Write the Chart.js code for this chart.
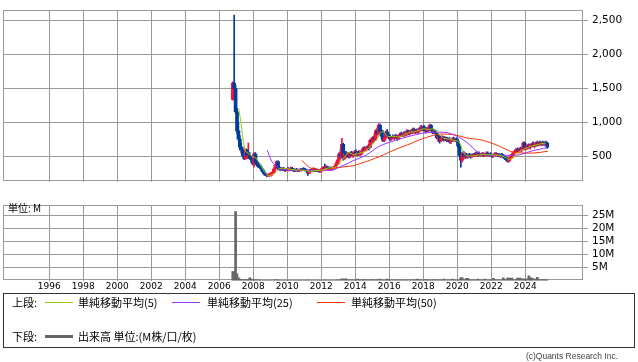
<!DOCTYPE html>
<html>
<head>
<meta charset="utf-8">
<script src="https://cdn.jsdelivr.net/npm/chart.js@4/dist/chart.umd.min.js"></script>
<style>
  body { margin: 0; background: #fff; width: 638px; height: 362px; position: relative; overflow: hidden;
         font-family: "Noto Sans CJK JP", sans-serif; color: #000; }
  canvas { position: absolute; left: 0; }
  #price { top: 0; }
  #volume { top: 195px; }
  .unit { position: absolute; left: 8px; top: 202px; font-size: 10px; line-height: 12px; }
  #legend { position: absolute; left: 3px; top: 293px; width: 630px; height: 53px; border: 1px solid #333; font-size: 11px; }
  #legend span { position: absolute; line-height: 13px; white-space: nowrap; }
  #legend i { position: absolute; width: 28px; height: 0; }
  .copy { position: absolute; right: 20px; top: 351px; font-size: 8.5px; line-height: 11px; color: #444; font-family: "Liberation Sans", sans-serif; }
</style>
</head>
<body>
<canvas id="price" width="638" height="192"></canvas>
<canvas id="volume" width="638" height="100"></canvas>
<div class="unit">単位: M</div>
<div id="legend">
  <span style="left:8px;top:2px">上段:</span>
  <i style="left:41px;top:8px;border-top:1px solid #99cc00"></i>
  <span style="left:74px;top:2px">単純移動平均(5)</span>
  <i style="left:168px;top:8px;border-top:1px solid #9933ff"></i>
  <span style="left:203px;top:2px">単純移動平均(25)</span>
  <i style="left:313px;top:8px;border-top:1px solid #ff3300"></i>
  <span style="left:347px;top:2px">単純移動平均(50)</span>
  <span style="left:8px;top:36px">下段:</span>
  <i style="left:41px;top:41px;border-top:3px solid #666"></i>
  <span style="left:74px;top:36px">出来高 単位:(M株/口/枚)</span>
</div>
<div class="copy">(c)Quants Research Inc.</div>
<script>
// 月足 2006年10月〜2025年4月
var startYear = 2006, startMonth = 10;

var opens = [
  1340, 1580, 1500,
  1160, 880, 760, 640, 600, 520, 470, 600, 500, 520, 480, 460,
  400, 540, 420, 380, 360, 350, 320, 280, 250, 230, 220, 220,
  230, 250, 270, 320, 370, 430, 330, 320, 310, 330, 310, 300,
  320, 310, 320, 330, 310, 290, 310, 300, 290, 310, 300, 320,
  310, 300, 290, 260, 300, 290, 310, 320, 290, 300, 290, 280,
  300, 330, 340, 330, 350, 320, 330, 320, 330, 340, 360, 400,
  450, 540, 500, 680, 480, 550, 510, 540, 500, 560, 520, 540,
  570, 540, 560, 530, 550, 590, 620, 600, 630, 650, 640, 740,
  720, 780, 760, 880, 840, 960, 880, 800, 740, 780, 860, 820,
  790, 760, 790, 780, 800, 790, 770, 810, 830, 820, 840, 810,
  850, 880, 840, 870, 850, 900, 870, 880, 860, 890, 920, 900,
  940, 900, 880, 910, 890, 960, 900, 860, 880, 850, 780, 800,
  740, 770, 790, 750, 780, 740, 750, 720, 740, 760, 740, 750,
  730, 660, 520, 450, 540, 500, 520, 500, 520, 510, 500, 530,
  520, 540, 530, 550, 520, 530, 540, 520, 530, 550, 520, 530,
  520, 510, 530, 540, 520, 530, 510, 530, 520, 490, 480, 460,
  440, 470, 500, 530, 560, 580, 600, 590, 610, 600, 620, 700,
  620, 640, 660, 640, 670, 690, 660, 690, 700, 680, 710, 690,
  700, 690, 710, 700
];
var highs = [
  1600, 2580, 1540,
  1210, 990, 810, 700, 640, 560, 620, 610, 700, 560, 500, 480,
  560, 560, 450, 420, 400, 370, 330, 300, 270, 250, 250, 260,
  270, 280, 330, 380, 440, 440, 350, 345, 340, 345, 330, 330,
  345, 330, 350, 345, 330, 320, 330, 320, 320, 330, 330, 340,
  330, 320, 300, 310, 320, 320, 340, 330, 320, 320, 310, 310,
  340, 360, 390, 370, 360, 340, 350, 340, 360, 370, 420, 460,
  560, 600, 770, 700, 570, 580, 560, 560, 570, 580, 560, 590,
  600, 580, 590, 570, 600, 640, 650, 640, 660, 680, 760, 780,
  800, 840, 900, 920, 985, 980, 900, 880, 800, 880, 900, 840,
  820, 800, 820, 810, 830, 810, 820, 850, 860, 850, 870, 860,
  900, 890, 880, 900, 920, 920, 900, 910, 900, 940, 960, 950,
  960, 920, 930, 940, 980, 970, 910, 900, 890, 860, 820, 810,
  790, 810, 800, 790, 790, 770, 780, 760, 780, 790, 770, 780,
  760, 680, 560, 560, 580, 560, 550, 540, 550, 540, 540, 550,
  560, 570, 560, 570, 550, 560, 560, 550, 570, 570, 550, 560,
  540, 540, 560, 560, 550, 550, 540, 550, 530, 510, 500, 490,
  480, 520, 540, 570, 600, 620, 630, 620, 640, 630, 720, 720,
  660, 680, 690, 680, 700, 720, 700, 720, 730, 720, 730, 720,
  730, 720, 730, 710
];
var lows = [
  1330, 1480, 1140,
  840, 740, 600, 560, 500, 455, 460, 480, 470, 460, 420, 380,
  345, 400, 360, 340, 330, 300, 270, 240, 220, 205, 210, 210,
  215, 230, 250, 300, 350, 310, 300, 300, 290, 300, 280, 290,
  300, 290, 300, 300, 280, 280, 290, 280, 280, 290, 290, 300,
  290, 280, 225, 250, 280, 280, 290, 280, 280, 280, 270, 270,
  290, 320, 320, 320, 310, 300, 310, 300, 320, 320, 340, 380,
  430, 470, 490, 450, 460, 490, 490, 480, 490, 500, 490, 520,
  520, 510, 520, 510, 530, 570, 590, 580, 600, 600, 630, 690,
  700, 740, 740, 820, 820, 860, 760, 720, 720, 760, 800, 760,
  740, 740, 760, 750, 770, 740, 760, 790, 800, 790, 800, 800,
  830, 820, 820, 840, 840, 850, 840, 850, 840, 870, 880, 880,
  880, 850, 860, 870, 880, 880, 840, 840, 830, 760, 720, 700,
  720, 740, 730, 740, 720, 720, 700, 690, 720, 730, 720, 720,
  640, 500, 345, 420, 480, 470, 480, 480, 490, 480, 490, 500,
  500, 510, 500, 510, 500, 510, 500, 500, 510, 510, 500, 510,
  490, 490, 510, 510, 500, 500, 490, 500, 480, 460, 440, 420,
  420, 450, 480, 510, 540, 560, 570, 560, 580, 570, 600, 600,
  600, 610, 620, 610, 640, 650, 630, 650, 660, 660, 670, 660,
  670, 660, 680, 620
];
var closes = [
  1580, 1500, 1160,
  880, 760, 640, 600, 520, 470, 600, 500, 520, 480, 460, 400,
  540, 420, 380, 360, 350, 320, 280, 250, 230, 220, 220, 230,
  250, 270, 320, 370, 430, 330, 320, 310, 330, 310, 300, 320,
  310, 320, 330, 310, 290, 310, 300, 290, 310, 300, 320, 310,
  300, 290, 260, 300, 290, 310, 320, 290, 300, 290, 280, 300,
  330, 340, 330, 350, 320, 330, 320, 330, 340, 360, 400, 450,
  540, 500, 680, 480, 550, 510, 540, 500, 560, 520, 540, 570,
  540, 560, 530, 550, 590, 620, 600, 630, 650, 640, 740, 720,
  780, 760, 880, 840, 960, 880, 800, 740, 780, 860, 820, 790,
  760, 790, 780, 800, 790, 770, 810, 830, 820, 840, 810, 850,
  880, 840, 870, 850, 900, 870, 880, 860, 890, 920, 900, 940,
  900, 880, 910, 890, 960, 900, 860, 880, 850, 780, 800, 740,
  770, 790, 750, 780, 740, 750, 720, 740, 760, 740, 750, 730,
  660, 520, 450, 540, 500, 520, 500, 520, 510, 500, 530, 520,
  540, 530, 550, 520, 530, 540, 520, 530, 550, 520, 530, 520,
  510, 530, 540, 520, 530, 510, 530, 520, 490, 480, 460, 440,
  470, 500, 530, 560, 580, 600, 590, 610, 600, 620, 700, 620,
  640, 660, 640, 670, 690, 660, 690, 700, 680, 710, 690, 700,
  690, 710, 700, 640
];
// 出来高 (M)
var volumes = [
  3.4, 3.4, 26.6,
  2.6, 1.0, 0.5, 0.4, 0.3, 0.3, 0.4, 0.3, 0.4, 1.0, 0.5, 0.3,
  0.3, 0.3, 0.2, 0.2, 0.2, 0.1, 0.1, 0.1, 0.1, 0.2, 0.1, 0.1,
  0.1, 0.1, 0.2, 0.2, 0.3, 0.2, 0.1, 0.1, 0.1, 0.1, 0.1, 0.1,
  0.1, 0.1, 0.1, 0.1, 0.1, 0.1, 0.1, 0.1, 0.1, 0.1, 0.1, 0.1,
  0.1, 0.1, 0.2, 0.1, 0.1, 0.1, 0.1, 0.1, 0.1, 0.1, 0.1, 0.1,
  0.1, 0.1, 0.2, 0.1, 0.1, 0.1, 0.1, 0.1, 0.1, 0.1, 0.2, 0.2,
  0.2, 0.3, 0.6, 0.5, 0.5, 0.6, 0.2, 0.2, 0.2, 0.2, 0.2, 0.2,
  0.2, 0.5, 0.2, 0.2, 0.2, 0.2, 0.4, 0.2, 0.2, 0.2, 0.2, 0.4,
  0.2, 0.2, 0.2, 0.4, 0.2, 0.5, 0.2, 0.2, 0.2, 0.2, 0.5, 0.2,
  0.2, 0.2, 0.2, 0.2, 0.2, 0.2, 0.2, 0.2, 0.2, 0.2, 0.2, 0.2,
  0.2, 0.2, 0.2, 0.2, 0.2, 0.2, 0.2, 0.5, 0.4, 0.2, 0.2, 0.2,
  0.2, 0.4, 0.2, 0.2, 0.2, 0.2, 0.2, 0.4, 0.2, 0.2, 0.2, 0.2,
  0.2, 0.2, 0.5, 0.2, 0.2, 0.2, 0.2, 0.2, 0.5, 0.2, 0.2, 0.2,
  0.2, 0.2, 1.1, 1.0, 0.4, 0.4, 0.8, 0.8, 0.3, 0.2, 0.2, 0.2,
  0.2, 0.2, 0.5, 0.2, 0.2, 0.2, 0.2, 0.5, 0.2, 0.2, 0.2, 0.2,
  0.2, 0.8, 0.3, 0.2, 0.2, 0.2, 0.2, 0.2, 1.0, 0.3, 0.2, 0.9,
  0.9, 0.8, 0.9, 0.3, 0.2, 0.2, 0.9, 0.8, 0.9, 0.3, 0.6, 0.5,
  0.3, 0.6, 1.8, 1.1, 0.8, 0.7, 0.3, 0.5, 1.2, 0.4, 0.2, 0.2,
  0.4, 0.4, 0.2, 0.2
];

// 移動平均線 (年, 値) — 図から読み取り
var ma5 = [
  [2007.14, 1210], [2007.28, 985], [2007.38, 786], [2007.47, 654], [2007.57, 570], [2007.73, 544],
  [2007.96, 500], [2008.16, 478], [2008.35, 411], [2008.55, 323], [2008.75, 250], [2008.94, 225],
  [2009.24, 257], [2009.53, 323], [2009.8, 330], [2010.2, 315], [2010.6, 305], [2011.0, 300],
  [2011.3, 285], [2011.6, 295], [2012.0, 300], [2012.4, 335], [2012.8, 340], [2013.0, 380],
  [2013.3, 470], [2013.6, 560], [2013.9, 530], [2014.2, 550], [2014.5, 570], [2014.8, 630],
  [2015.0, 680], [2015.3, 770], [2015.5, 860], [2015.7, 860], [2015.9, 800], [2016.2, 800],
  [2016.5, 790], [2016.8, 810], [2017.1, 850], [2017.4, 865], [2017.7, 880], [2018.0, 910],
  [2018.3, 900], [2018.6, 905], [2018.9, 840], [2019.2, 770], [2019.5, 760], [2019.8, 740],
  [2020.1, 720], [2020.3, 600], [2020.5, 520], [2020.8, 510], [2021.1, 520], [2021.5, 530],
  [2021.9, 530], [2022.3, 525], [2022.6, 515], [2022.9, 480], [2023.1, 460], [2023.4, 510],
  [2023.7, 580], [2024.0, 620], [2024.3, 650], [2024.6, 670], [2024.9, 690], [2025.2, 700]
];
var ma25 = [
  [2008.82, 597], [2009.08, 434], [2009.28, 376], [2009.57, 323], [2010.16, 305], [2010.75, 301],
  [2011.92, 301], [2012.69, 305], [2013.10, 350], [2013.45, 389], [2013.86, 440], [2014.63, 521],
  [2015.41, 654], [2016.39, 742], [2017.18, 800], [2017.96, 845], [2018.94, 861], [2019.45, 850],
  [2019.92, 808], [2020.51, 720], [2021.10, 588], [2021.39, 544], [2021.92, 521], [2022.91, 521],
  [2023.45, 521], [2023.69, 530], [2024.45, 588], [2025.27, 632]
];
var ma50 = [
  [2010.86, 447], [2011.09, 385], [2011.39, 332], [2011.92, 310], [2012.45, 310], [2012.86, 336],
  [2013.45, 354], [2013.86, 367], [2014.43, 411], [2015.41, 500], [2016.39, 610], [2017.18, 685],
  [2017.96, 765], [2018.94, 831], [2019.92, 818], [2020.51, 778], [2021.49, 742], [2022.47, 654],
  [2023.26, 566], [2023.65, 557], [2024.44, 553], [2025.32, 579]
];

var yearTicks = [1996, 1998, 2000, 2002, 2004, 2006, 2008, 2010, 2012, 2014, 2016, 2018, 2020, 2022, 2024];
var priceTicks = [500, 1000, 1500, 2000, 2500];
var volumeTicks = [5, 10, 15, 20, 25];

var X_MIN = 1993.276, X_MAX = 2027.394;
var UP = "#f5123c", DOWN = "#003c9c", GRID = "#999999";

// 月の中央を年の小数で
var times = closes.map(function (c, i) {
  return startYear + (startMonth - 1 + i + 0.5) / 12;
});
var candleColors = closes.map(function (c, i) { return c >= opens[i] ? UP : DOWN; });

// 枠線
var frame = {
  id: "frame",
  beforeDatasetsDraw: function (chart) {
    var a = chart.chartArea, ctx = chart.ctx;
    ctx.save();
    ctx.strokeStyle = GRID;
    ctx.lineWidth = 1;
    ctx.strokeRect(Math.round(a.left) + 0.5, Math.round(a.top) + 0.5,
      Math.round(a.right - a.left) - 1, Math.round(a.bottom - a.top) - 1);
    ctx.restore();
  }
};

function xScale(showLabels, height) {
  return {
    type: "linear", min: X_MIN, max: X_MAX, offset: false,
    grid: { color: GRID, offset: false, drawTicks: false },
    border: { display: false },
    ticks: {
      display: showLabels, padding: 1, color: "#000", maxRotation: 0,
      font: { family: "DejaVu Sans", size: 9 },
      callback: function (v) { return String(v); }
    },
    afterBuildTicks: function (ax) { ax.ticks = yearTicks.map(function (v) { return { value: v }; }); },
    afterFit: function (ax) { ax.height = height; }
  };
}

function lineSet(points, color) {
  return {
    type: "line", data: points.map(function (p) { return { x: p[0], y: p[1] }; }),
    borderColor: color, borderWidth: 1, pointRadius: 0, tension: 0.3, order: 0
  };
}

new Chart(document.getElementById("price"), {
  type: "bar",
  data: {
    datasets: [
      lineSet(ma5, "#99cc00"),
      lineSet(ma25, "#9933ff"),
      lineSet(ma50, "#ff3300"),
      {
        data: times.map(function (t, i) { return { x: t, y: [opens[i], closes[i]] }; }),
        backgroundColor: candleColors, barThickness: 3, grouped: false, minBarLength: 1, order: 1
      },
      {
        data: times.map(function (t, i) { return { x: t, y: [lows[i], highs[i]] }; }),
        backgroundColor: candleColors, barThickness: 1, grouped: false, order: 2
      }
    ]
  },
  options: {
    responsive: false, animation: false,
    layout: { padding: { left: 3, top: 1, right: 0, bottom: 0 } },
    plugins: { legend: { display: false }, tooltip: { enabled: false } },
    scales: {
      x: xScale(false, 1),
      y: {
        position: "right", min: 133.1, max: 2649.7,
        grid: { color: GRID, tickLength: 5 },
        border: { display: false },
        ticks: {
          color: "#000", padding: 4, font: { family: "DejaVu Sans", size: 10.5 },
          callback: function (v) { return v.toLocaleString("en-US"); }
        },
        afterBuildTicks: function (ax) { ax.ticks = priceTicks.map(function (v) { return { value: v }; }); },
        afterFit: function (ax) { ax.width = 55; }
      }
    }
  },
  plugins: [frame]
});

new Chart(document.getElementById("volume"), {
  type: "bar",
  data: {
    datasets: [{
      data: times.map(function (t, i) { return { x: t, y: volumes[i] }; }),
      backgroundColor: "#666666", barThickness: 2
    }]
  },
  options: {
    responsive: false, animation: false,
    layout: { padding: { left: 3, top: 6, right: 0, bottom: 0 } },
    plugins: { legend: { display: false }, tooltip: { enabled: false } },
    scales: {
      x: xScale(true, 14.5),
      y: {
        position: "right", min: 0, max: 29.0,
        grid: { color: GRID, tickLength: 5 },
        border: { display: false },
        ticks: {
          color: "#000", padding: 4, font: { family: "DejaVu Sans", size: 10.5 },
          callback: function (v) { return v + "M"; }
        },
        afterBuildTicks: function (ax) { ax.ticks = volumeTicks.map(function (v) { return { value: v }; }); },
        afterFit: function (ax) { ax.width = 55; }
      }
    }
  },
  plugins: [frame]
});
</script>
</body>
</html>
